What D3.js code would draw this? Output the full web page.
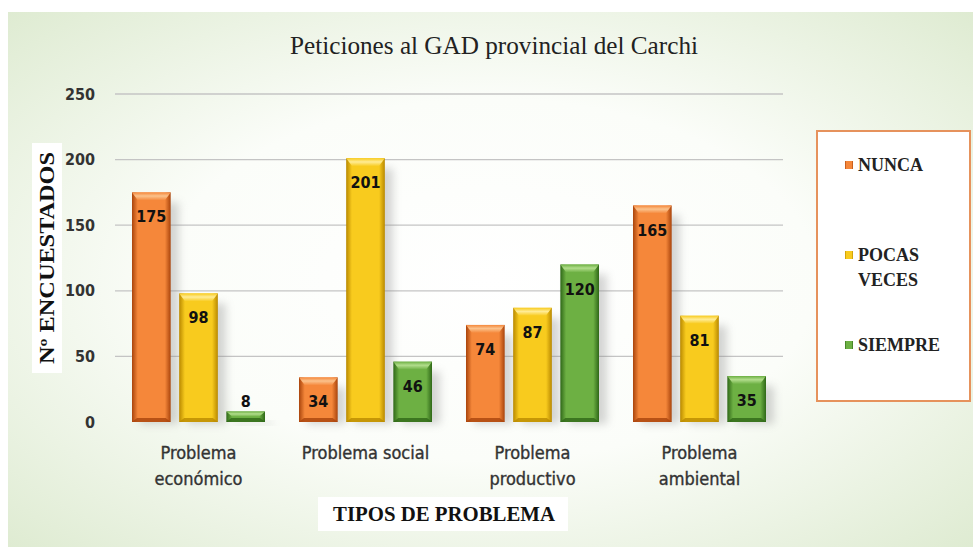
<!DOCTYPE html>
<html>
<head>
<meta charset="utf-8">
<script src="https://cdn.jsdelivr.net/npm/d3@7"></script>
<style>
  html, body { margin: 0; padding: 0; background: #fff; }
  svg { display: block; }
</style>
</head>
<body>
<div id="chart"></div>
<script>
// Peticiones al GAD provincial del Carchi
const categories = [["Problema", "económico"], ["Problema social"], ["Problema", "productivo"], ["Problema", "ambiental"]];
const series = ["NUNCA", "POCAS VECES", "SIEMPRE"];
const nunca = [175, 34, 74, 165];
const pocasVeces = [98, 201, 87, 81];
const siempre = [8, 46, 120, 35];
const yTicks = [0, 50, 100, 150, 200, 250];

const values = [nunca, pocasVeces, siempre];
const W = 973, H = 547;
const margin = {top: 94, right: 190, bottom: 125, left: 115};
const sans = "'DejaVu Sans Condensed', 'DejaVu Sans', sans-serif";
const serif = "'Liberation Serif', 'Times New Roman', serif";

const palette = [
    {mid: "#F5873A", edge: "#A9440C", top: "#FBC28C"},
    {mid: "#F8CB1E", edge: "#B98900", top: "#FFEC95"},
    {mid: "#6DB043", edge: "#2F6818", top: "#B2DD8C"}
];

const svg = d3.select("#chart").append("svg")
    .attr("width", W)
    .attr("height", H);

const defs = svg.append("defs");

// soft green backdrop, white towards the middle
const bg = defs.append("radialGradient").attr("id", "bg")
    .attr("cx", "50%").attr("cy", "50%").attr("r", "75%");
bg.append("stop").attr("offset", "0%").attr("stop-color", "#ffffff");
bg.append("stop").attr("offset", "45%").attr("stop-color", "#fbfdf9");
bg.append("stop").attr("offset", "100%").attr("stop-color", "#dbe9cd");

palette.forEach((c, i) => {
    const g = defs.append("linearGradient").attr("id", "bar" + i)
        .attr("x1", "0%").attr("x2", "100%").attr("y1", "0%").attr("y2", "0%");
    g.append("stop").attr("offset", "0%").attr("stop-color", c.edge);
    g.append("stop").attr("offset", "15%").attr("stop-color", c.mid);
    g.append("stop").attr("offset", "85%").attr("stop-color", c.mid);
    g.append("stop").attr("offset", "100%").attr("stop-color", c.edge);
    const t = defs.append("linearGradient").attr("id", "top" + i)
        .attr("x1", "0%").attr("x2", "0%").attr("y1", "0%").attr("y2", "100%");
    t.append("stop").attr("offset", "0%").attr("stop-color", c.mid);
    t.append("stop").attr("offset", "45%").attr("stop-color", c.top);
    t.append("stop").attr("offset", "100%").attr("stop-color", c.mid);
});

const blur = defs.append("filter").attr("id", "shadow")
    .attr("x", "-50%").attr("y", "-50%").attr("width", "200%").attr("height", "200%");
blur.append("feGaussianBlur").attr("stdDeviation", 4);

svg.append("rect")
    .attr("x", 8).attr("y", 12)
    .attr("width", W - 8).attr("height", H - 12)
    .attr("fill", "url(#bg)");

const innerW = W - margin.left - margin.right;
const innerH = H - margin.top - margin.bottom;

const plot = svg.append("g").attr("transform", `translate(${margin.left},${margin.top})`);

const x0 = d3.scaleBand().domain(d3.range(categories.length)).range([0, innerW]);
const x1 = d3.scaleBand().domain(d3.range(series.length)).range([17, x0.bandwidth() - 17]).paddingInner(0.18);
const y = d3.scaleLinear().domain([0, 250]).range([innerH, 0]);

// gridlines
plot.append("g")
    .selectAll("line")
    .data(yTicks.slice(1))
    .join("line")
    .attr("x1", 0).attr("x2", innerW)
    .attr("y1", d => y(d)).attr("y2", d => y(d))
    .attr("stroke", "#c4c4c4")
    .attr("stroke-width", 1.3);

// y axis labels
const yAxis = plot.append("g")
    .call(d3.axisLeft(y).tickValues(yTicks).tickSize(0).tickPadding(20));
yAxis.select(".domain").remove();
yAxis.selectAll("text")
    .attr("font-family", sans)
    .attr("font-weight", "bold")
    .attr("font-size", 16)
    .attr("fill", "#333");

const groups = plot.selectAll(".grp")
    .data(categories)
    .join("g")
    .attr("class", "grp")
    .attr("transform", (d, i) => `translate(${x0(i)},0)`);

const bars = groups.selectAll(".bar")
    .data((d, i) => values.map((s, k) => ({k, v: s[i]})))
    .join("g")
    .attr("class", "bar");

// shadow behind each bar
bars.append("rect")
    .attr("x", d => x1(d.k) + 8)
    .attr("y", d => y(d.v) + 10)
    .attr("width", x1.bandwidth())
    .attr("height", d => innerH - y(d.v) - 8)
    .attr("fill", "#888")
    .attr("opacity", 0.35)
    .attr("filter", "url(#shadow)");

bars.append("rect")
    .attr("x", d => x1(d.k))
    .attr("y", d => y(d.v))
    .attr("width", x1.bandwidth())
    .attr("height", d => innerH - y(d.v))
    .attr("fill", d => `url(#bar${d.k})`);

// top bevel
bars.append("path")
    .attr("d", d => {
        const bx = x1(d.k), bw = x1.bandwidth(), by = y(d.v);
        const b = Math.min(8, (innerH - by) / 2);
        return `M${bx},${by}L${bx + bw},${by}L${bx + bw - 6},${by + b}L${bx + 6},${by + b}Z`;
    })
    .attr("fill", d => `url(#top${d.k})`);

// bottom bevel
bars.append("path")
    .attr("d", d => {
        const bx = x1(d.k), bw = x1.bandwidth();
        const b = Math.min(4, (innerH - y(d.v)) / 2);
        return `M${bx},${innerH}L${bx + bw},${innerH}L${bx + bw - 5},${innerH - b}L${bx + 5},${innerH - b}Z`;
    })
    .attr("fill", d => palette[d.k].edge)
    .attr("opacity", 0.8);

// value labels: inside the top of the bar, above it when the bar is short
bars.append("text")
    .attr("x", d => x1(d.k) + x1.bandwidth() / 2)
    .attr("y", d => d.v > 20 ? y(d.v) + 30 : y(d.v) - 5)
    .attr("text-anchor", "middle")
    .attr("font-family", sans)
    .attr("font-weight", "bold")
    .attr("font-size", 16)
    .attr("fill", "#111")
    .text(d => d.v);

// category labels
groups.append("text")
    .attr("x", x0.bandwidth() / 2)
    .attr("y", innerH + 37)
    .attr("text-anchor", "middle")
    .attr("font-family", sans)
    .attr("font-size", 18)
    .attr("fill", "#333")
    .attr("stroke", "#333")
    .attr("stroke-width", 0.35)
    .selectAll("tspan")
    .data(d => d)
    .join("tspan")
    .attr("x", x0.bandwidth() / 2)
    .attr("dy", (d, i) => i === 0 ? 0 : 26)
    .text(d => d);

// title
svg.append("text")
    .attr("x", 494).attr("y", 54)
    .attr("text-anchor", "middle")
    .attr("font-family", serif)
    .attr("font-size", 26)
    .attr("fill", "#222")
    .attr("textLength", 408)
    .attr("lengthAdjust", "spacingAndGlyphs")
    .text("Peticiones al GAD provincial del Carchi");

// x axis title with white box
const xt = svg.append("g").attr("transform", "translate(444,514)");
xt.append("rect").attr("x", -126).attr("y", -17).attr("width", 250).attr("height", 34).attr("fill", "#fff");
xt.append("text")
    .attr("text-anchor", "middle").attr("dy", "0.35em")
    .attr("font-family", serif)
    .attr("font-weight", "bold").attr("font-size", 20).attr("fill", "#111")
    .attr("textLength", 222)
    .attr("lengthAdjust", "spacingAndGlyphs")
    .text("TIPOS DE PROBLEMA");

// y axis title with white box
const yt = svg.append("g").attr("transform", "translate(47,258) rotate(-90)");
yt.append("rect").attr("x", -115).attr("y", -15).attr("width", 230).attr("height", 30).attr("fill", "#fff");
yt.append("text")
    .attr("text-anchor", "middle").attr("dy", "0.35em")
    .attr("font-family", serif)
    .attr("font-weight", "bold").attr("font-size", 20).attr("fill", "#111")
    .attr("textLength", 212)
    .attr("lengthAdjust", "spacingAndGlyphs")
    .text("Nº ENCUESTADOS");

// legend
const legend = svg.append("g");
legend.append("rect")
    .attr("x", 817).attr("y", 131).attr("width", 153).attr("height", 270)
    .attr("fill", "#fff").attr("stroke", "#E6925C").attr("stroke-width", 2);

const legendRows = [["NUNCA"], ["POCAS", "VECES"], ["SIEMPRE"]];
const legendY = [165, 255, 345];
const li = legend.selectAll(".li")
    .data(series)
    .join("g")
    .attr("class", "li")
    .attr("transform", (d, i) => `translate(845,${legendY[i]})`);
li.append("rect")
    .attr("x", 0).attr("y", -4).attr("width", 8).attr("height", 8)
    .attr("fill", (d, i) => `url(#bar${i})`);
li.append("text")
    .attr("x", 13)
    .attr("font-family", serif)
    .attr("font-weight", "bold").attr("font-size", 18).attr("fill", "#222")
    .selectAll("tspan")
    .data((d, i) => legendRows[i])
    .join("tspan")
    .attr("x", 13)
    .attr("dy", (d, i) => i === 0 ? "0.35em" : 25)
    .text(d => d);
</script>
</body>
</html>
